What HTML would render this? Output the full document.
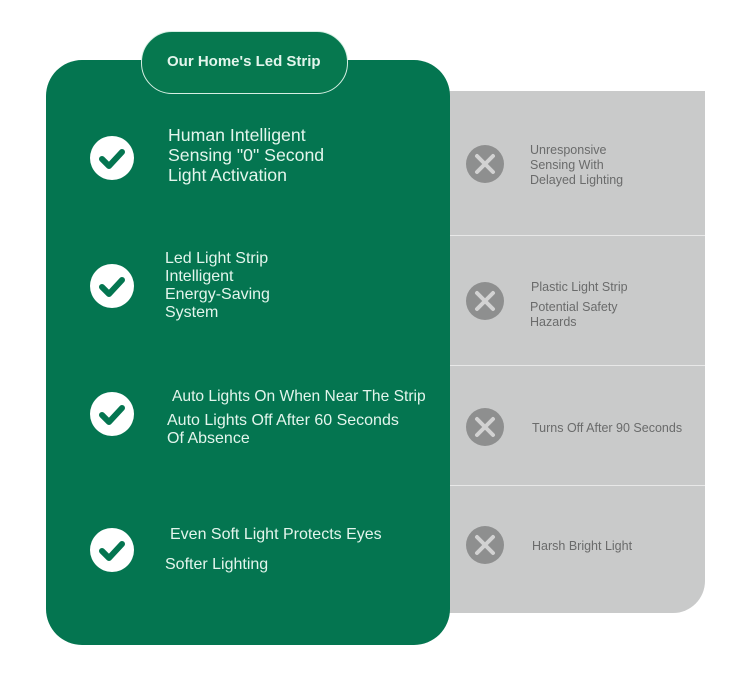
<!DOCTYPE html>
<html><head><style>
body{margin:0;width:750px;height:693px;background:#fff;position:relative;overflow:hidden;font-family:"Liberation Sans",Arial,sans-serif}
.a{position:absolute}
.g{color:#e3f5ec}
.y{color:#6a6b6b;font-size:12.5px;line-height:15px}
.ck{position:absolute;width:44px;height:44px;border-radius:50%;background:#fff}
.ck svg{position:absolute;left:0;top:0}
.x{position:absolute;width:38px;height:38px;border-radius:50%;background:#8e8f8f}
.x svg{position:absolute;left:0;top:0}
.hr{position:absolute;left:450px;width:255px;height:1px;background:#e8e8e8}
</style></head><body>
<div class="a" style="left:440px;top:91px;width:265px;height:522px;background:#c9caca;border-bottom-right-radius:32px"></div>
<div class="hr" style="top:235px"></div>
<div class="hr" style="top:365px"></div>
<div class="hr" style="top:485px"></div>
<div class="a" style="left:46px;top:60px;width:404px;height:585px;background:#047550;border-radius:36px"></div>
<div class="a" style="left:141px;top:31px;width:205px;height:61px;border:1px solid #d6efe3;border-radius:31px;background:#06784f"></div>
<div class="a g" style="left:167px;top:53px;font-size:15px;font-weight:bold">Our Home's Led Strip</div>

<div class="ck" style="left:90px;top:136px"><svg width="44" height="44"><path d="M12 23 L19 30 L32 16" stroke="#047550" stroke-width="6" fill="none" stroke-linecap="round" stroke-linejoin="round"/></svg></div>
<div class="ck" style="left:90px;top:264px"><svg width="44" height="44"><path d="M12 23 L19 30 L32 16" stroke="#047550" stroke-width="6" fill="none" stroke-linecap="round" stroke-linejoin="round"/></svg></div>
<div class="ck" style="left:90px;top:392px"><svg width="44" height="44"><path d="M12 23 L19 30 L32 16" stroke="#047550" stroke-width="6" fill="none" stroke-linecap="round" stroke-linejoin="round"/></svg></div>
<div class="ck" style="left:90px;top:528px"><svg width="44" height="44"><path d="M12 23 L19 30 L32 16" stroke="#047550" stroke-width="6" fill="none" stroke-linecap="round" stroke-linejoin="round"/></svg></div>

<div class="a g" style="left:168px;top:125px;font-size:17.7px;line-height:20px">Human Intelligent<br>Sensing "0" Second<br>Light Activation</div>
<div class="a g" style="left:165px;top:250px;font-size:16px;line-height:18px">Led Light Strip<br>Intelligent<br>Energy-Saving<br>System</div>
<div class="a g" style="left:172px;top:388px;font-size:15.6px;line-height:18px">Auto Lights On When Near The Strip</div>
<div class="a g" style="left:167px;top:412px;font-size:16px;line-height:18px">Auto Lights Off After 60 Seconds<br>Of Absence</div>
<div class="a g" style="left:170px;top:526px;font-size:16px;line-height:18px">Even Soft Light Protects Eyes</div>
<div class="a g" style="left:165px;top:556px;font-size:16px;line-height:18px">Softer Lighting</div>

<div class="x" style="left:466px;top:145px"><svg width="38" height="38"><path d="M11 11 L27 27 M27 11 L11 27" stroke="#d2d2d2" stroke-width="4" stroke-linecap="round"/></svg></div>
<div class="x" style="left:466px;top:282px"><svg width="38" height="38"><path d="M11 11 L27 27 M27 11 L11 27" stroke="#d2d2d2" stroke-width="4" stroke-linecap="round"/></svg></div>
<div class="x" style="left:466px;top:408px"><svg width="38" height="38"><path d="M11 11 L27 27 M27 11 L11 27" stroke="#d2d2d2" stroke-width="4" stroke-linecap="round"/></svg></div>
<div class="x" style="left:466px;top:526px"><svg width="38" height="38"><path d="M11 11 L27 27 M27 11 L11 27" stroke="#d2d2d2" stroke-width="4" stroke-linecap="round"/></svg></div>

<div class="a y" style="left:530px;top:143px">Unresponsive<br>Sensing With<br>Delayed Lighting</div>
<div class="a y" style="left:531px;top:280px">Plastic Light Strip</div>
<div class="a y" style="left:530px;top:300px">Potential Safety<br>Hazards</div>
<div class="a y" style="left:532px;top:421px">Turns Off After 90 Seconds</div>
<div class="a y" style="left:532px;top:539px">Harsh Bright Light</div>
</body></html>
